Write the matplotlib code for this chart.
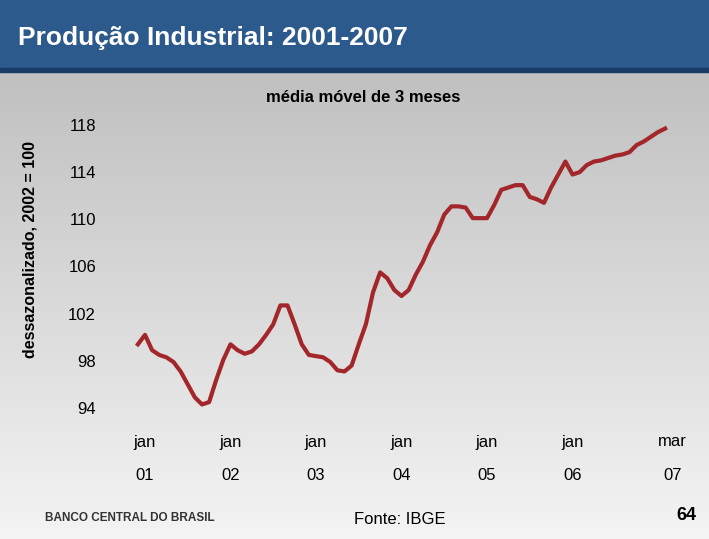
import numpy as np
import matplotlib
matplotlib.use("Agg")
import matplotlib.pyplot as plt
import matplotlib.transforms as mtransforms

# monthly index: 0 = jan 2001
months = np.arange(-1, 74)
values = [99.4, 100.2, 98.9, 98.5, 98.3, 97.9, 97.1, 96.0, 94.9, 94.3, 94.5, 96.4, 98.1,
          99.4, 98.9, 98.6, 98.8, 99.4, 100.2, 101.1, 102.7, 102.7, 101.1, 99.4, 98.5,
          98.4, 98.3, 97.9, 97.2, 97.1, 97.6, 99.4, 101.1, 103.8, 105.5, 105.0, 104.0,
          103.5, 104.0, 105.3, 106.4, 107.8, 108.9, 110.4, 111.1, 111.1, 111.0, 110.1, 110.1,
          110.1, 111.2, 112.5, 112.7, 112.9, 112.9, 111.9, 111.7, 111.4, 112.7, 113.8, 114.9,
          113.8, 114.0, 114.6, 114.9, 115.0, 115.2, 115.4, 115.5, 115.7, 116.3, 116.6, 117.0,
          117.4, 117.7]
months = months[:len(values)]
tick_pos = [0, 12, 24, 36, 48, 60, 74]
tick_top = ["jan", "jan", "jan", "jan", "jan", "jan", "mar"]
tick_bot = ["01", "02", "03", "04", "05", "06", "07"]
y_ticks = [94, 98, 102, 106, 110, 114, 118]

W, H = 709, 539
fig = plt.figure(figsize=(W / 100, H / 100), dpi=100)

# background
bg = fig.add_axes([0, 0, 1, 1], zorder=-10)
grad = np.linspace(0, 1, 256).reshape(-1, 1)
bg.imshow(grad, cmap=matplotlib.colors.LinearSegmentedColormap.from_list("g", ["#b8b8b8", "#f4f4f4"]),
          aspect="auto", extent=[0, 1, 0, 1])
bg.add_patch(plt.Rectangle((0, 1 - 68 / H), 1, 68 / H, color="#2c5a8c"))
bg.add_patch(plt.Rectangle((0, 1 - 72 / H), 1, 4 / H, color="#1b3a66"))
bg.set_xlim(0, 1); bg.set_ylim(0, 1); bg.axis("off")

fig.text(18 / W, 1 - 38 / H, "Produção Industrial: 2001-2007", color="white",
         fontsize=19, fontweight="bold", va="center", family="Liberation Sans")
fig.text(363 / W, 1 - 97 / H, "média móvel de 3 meses", fontsize=12, fontweight="bold",
         ha="center", va="center", family="Liberation Sans")
fig.text(30 / W, 1 - 250 / H, "dessazonalizado, 2002 = 100", rotation=90, fontsize=11.5,
         fontweight="bold", ha="center", va="center", family="Liberation Sans")
fig.text(400 / W, 1 - 520 / H, "Fonte: IBGE", fontsize=12, ha="center", va="center",
         family="Liberation Sans")
fig.text(686 / W, 1 - 516 / H, "64", fontsize=13, fontweight="bold", ha="center", va="center",
         family="Liberation Sans")
fig.text(45 / W, 1 - 518 / H, "BANCO CENTRAL DO BRASIL", fontsize=8.5, fontweight="bold",
         color="#333333", va="center", family="Liberation Sans")

x0, x1 = 110, 700
ax = fig.add_axes([x0 / W, (H - 408) / H, (x1 - x0) / W, (408 - 125) / H])
ax.patch.set_alpha(0)
ax.plot(months, values, color="#a3262a", lw=3)
ax.set_xlim((x0 - 145) / 7.125, (x1 - 145) / 7.125)
ax.set_ylim(94, 118)
for s in ax.spines.values():
    s.set_visible(False)
ax.set_xticks([])
ax.set_yticks(y_ticks)
ax.set_yticklabels([str(v) for v in y_ticks], fontsize=12, family="Liberation Sans")
ax.tick_params(axis="y", length=0, pad=10)

tr = mtransforms.blended_transform_factory(ax.transData, fig.transFigure)
for p, a, b in zip(tick_pos, tick_top, tick_bot):
    ax.text(p, 1 - 442 / H, a, transform=tr, ha="center", va="center", fontsize=12,
            family="Liberation Sans")
    ax.text(p, 1 - 475 / H, b, transform=tr, ha="center", va="center", fontsize=12,
            family="Liberation Sans")

fig.savefig("out.png", dpi=100)
